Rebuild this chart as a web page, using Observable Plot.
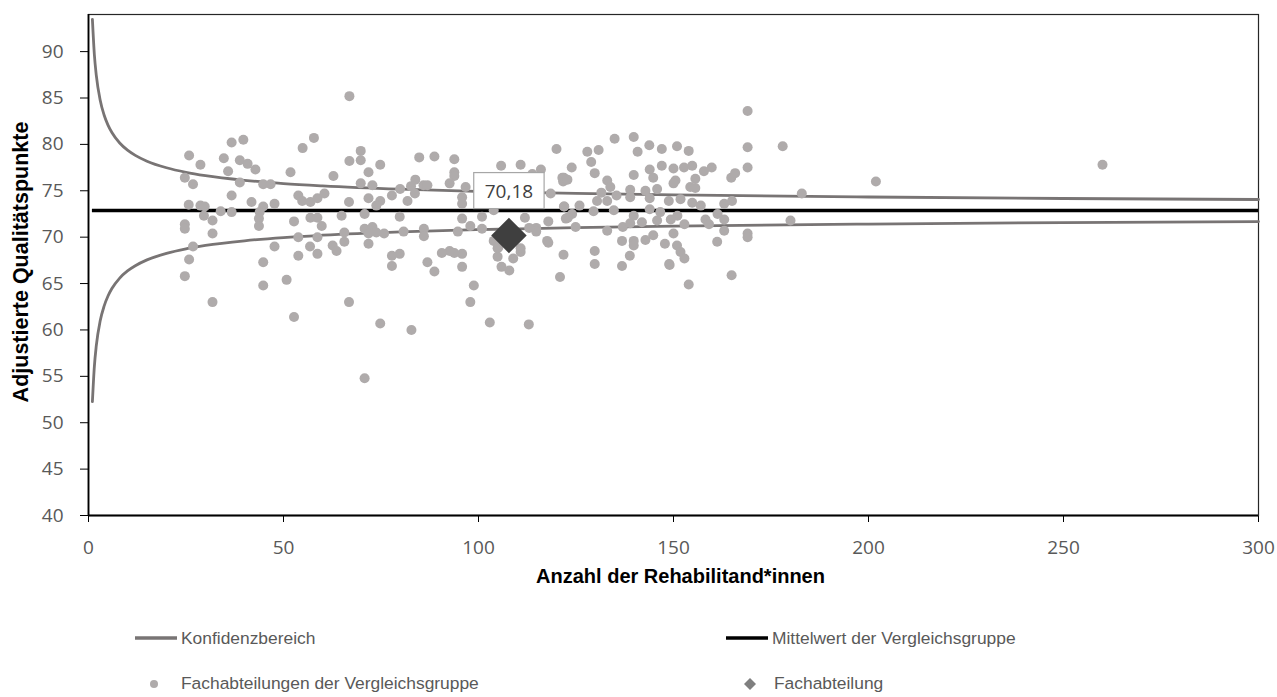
<!DOCTYPE html>
<html><head><meta charset="utf-8">
<script src="https://cdn.jsdelivr.net/npm/d3@7"></script>
<script src="https://cdn.jsdelivr.net/npm/@observablehq/plot@0.6"></script>
<style>
body{margin:0;background:#fff;}
#wrap{position:relative;width:1277px;height:697px;overflow:hidden;background:#fff;}
#chart svg{display:block;}
.legend{position:absolute;left:0;top:600px;width:1277px;height:97px;font-family:"Liberation Sans",Arial,sans-serif;font-size:17.4px;color:#595959;}
.legend .sym{position:absolute;width:46px;height:20px;}
.legend .lab{position:absolute;line-height:20px;white-space:nowrap;}
svg [aria-label="x-axis tick"], svg [aria-label="y-axis tick"]{stroke:#000;}
</style></head>
<body><div id="wrap"><div id="chart"></div>
<div class="legend">
  <svg class="sym" style="left:135px;top:28px"><line x1="0" x2="42" y1="10" y2="10" stroke="#787474" stroke-width="3.5"/></svg>
  <div class="lab" style="left:181px;top:28px">Konfidenzbereich</div>
  <svg class="sym" style="left:726px;top:28px"><line x1="0" x2="42" y1="10" y2="10" stroke="#000" stroke-width="3.5"/></svg>
  <div class="lab" style="left:772px;top:28px">Mittelwert der Vergleichsgruppe</div>
  <svg class="sym" style="left:135px;top:73px"><circle cx="19" cy="11" r="4" fill="#afabab"/></svg>
  <div class="lab" style="left:181px;top:73px">Fachabteilungen der Vergleichsgruppe</div>
  <svg class="sym" style="left:730px;top:73px"><path d="M20,5 L26,11 L20,17 L14,11 Z" fill="#7f7f7f"/></svg>
  <div class="lab" style="left:774px;top:73px">Fachabteilung</div>
</div></div>
<script>
// ---- data ----
const xTicks = [0, 50, 100, 150, 200, 250, 300];
const yTicks = [40, 45, 50, 55, 60, 65, 70, 75, 80, 85, 90];
const xLabel = "Anzahl der Rehabilitand*innen";
const yLabel = "Adjustierte Qualitätspunkte";

const meanValue = 72.87;   // Mittelwert der Vergleichsgruppe
const meanFrom = 1, meanTo = 300;

const ciN     = [1, 1.5, 2, 3, 4, 5, 6, 8, 10, 12, 15, 20, 25, 30, 40, 50, 60, 80, 100, 125, 150, 200, 250, 300];
const ciUpper = [93.47, 89.69, 87.44, 84.76, 83.17, 82.08, 81.28, 80.15, 79.38, 78.82, 78.19, 77.48, 76.99, 76.63, 76.13, 75.78, 75.53, 75.17, 74.93, 74.71, 74.55, 74.33, 74.17, 74.06];
const ciLower = [52.27, 56.05, 58.30, 60.98, 62.57, 63.66, 64.46, 65.59, 66.36, 66.92, 67.55, 68.26, 68.75, 69.11, 69.61, 69.96, 70.21, 70.57, 70.81, 71.03, 71.19, 71.41, 71.57, 71.68];

const deptN = [107.8];
const deptScore = [70.18];

const cmpN = [66.9,39.7,36.7,57.8,54.9,25.8,28.7,34.7,38.8,40.8,42.8,35.8,24.7,26.8,38.8,44.8,46.7,51.8,62.8,69.8,69.8,66.9,74.8,71.8,69.8,72.8,84.8,88.7,93.8,93.8,93.8,83.8,85.9,86.9,79.9,82.7,83.7,92.6,96.7,95.8,95.8,120,105.8,110.8,113.8,116,121.5,121.7,118.5,122,103.9,
25.7,28.7,29.8,29.6,31.8,33.9,36.7,36.7,41.8,44.8,43.9,43.7,43.7,47.7,53.8,54.8,56.9,58.7,60.5,66.8,71.8,74.8,73.8,64.9,70.8,56.9,58.7,52.7,59.8,77.8,79.8,81.8,95.8,100.9,97.9,100.9,111.9,114.8,114.8,117.9,122.4,110.8,117.9,121.8,104.9,108.9,105.9,107.9,120.9,102.9,112.9,97.9,98.8,95.8,95.8,93.8,92.6,90.6,88.7,86.9,79.8,77.8,77.8,74.8,82.8,70.8,66.8,52.7,50.8,44.8,44.8,31.8,24.7,25.8,26.8,24.7,24.7,31.8,47.7,53.8,53.8,56.8,58.7,58.7,62.6,63.6,65.6,65.6,71.8,70.8,72.8,73.8,75.8,71.8,80.8,86,86,94.7,103.9,104.9,107.9,113,105.1,110.8,117.6,
169,169,169,178,201.9,182.9,180,169,169,164.9,153.9,134.9,139.8,143.8,147,150.9,153.9,140.8,127.9,130.8,128.9,123.9,129.8,121.9,122.8,139.8,143.9,147,150,152.7,154.8,157.8,159.8,164.8,165.8,144.8,150.5,155.6,155.6,154.3,133,133.8,138.9,142.8,145.8,150,131.5,130.4,135.4,133,138.9,143.9,148.8,151.8,154.8,157,163,165,121.9,125.9,124,129.5,134.7,139.8,143.9,146.6,151,161.3,163,122.9,124.9,133,137,138.9,141.9,145.8,149.3,152.8,158.2,159.1,163,150,129.8,129.8,136.8,139.8,139.8,142.8,144.8,147.8,150.9,151.8,152.8,148.9,161.2,136.8,138.8,149,260];
const cmpScore = [85.2,80.5,80.2,80.7,79.6,78.8,77.8,78.5,78.3,77.9,77.3,77.1,76.4,75.7,75.9,75.7,75.7,77.0,76.6,79.3,78.3,78.2,77.8,77.0,75.8,75.6,78.6,78.7,78.4,77.0,76.6,76.2,75.6,75.6,75.2,75.5,74.7,75.8,75.4,74.3,73.6,79.5,77.7,77.8,76.8,77.3,76.4,76.0,74.7,73.3,72.9,
73.5,73.4,73.3,72.3,71.8,72.8,72.7,74.5,73.8,73.3,72.7,72.0,71.2,73.6,74.5,73.9,73.8,74.2,74.7,73.8,74.2,73.9,73.4,72.3,72.5,72.1,72.1,71.7,71.2,74.5,72.2,73.9,72.0,72.2,71.2,70.9,72.1,71.0,70.6,71.7,72.0,68.4,69.4,68.1,67.9,67.7,66.8,66.4,65.7,60.8,60.6,63.0,64.8,66.8,68.2,68.3,68.5,68.3,66.3,67.3,68.2,68.0,66.9,60.7,60.0,54.8,63.0,61.4,65.4,67.3,64.8,63.0,65.8,67.6,69.0,71.4,70.9,70.4,69.0,70.0,68.0,69.0,68.2,70.0,69.1,68.5,69.5,70.5,69.3,70.9,71.1,70.5,70.4,70.4,70.6,70.9,70.1,70.6,69.6,68.8,70.8,71.0,68.9,68.8,69.6,
83.6,79.7,77.5,79.8,76.0,74.7,71.8,70.4,70.0,65.9,64.9,80.6,80.8,79.9,79.5,79.8,79.3,79.2,79.2,79.4,78.1,77.5,76.9,76.4,76.2,76.7,77.3,77.7,77.4,77.5,77.7,77.1,77.5,76.4,76.9,76.4,76.1,76.3,75.3,75.4,76.1,75.4,75.1,75.0,75.2,75.8,74.8,73.9,74.5,73.9,74.3,74.2,73.9,74.1,73.7,73.4,73.6,73.9,73.3,73.4,72.5,72.8,72.9,72.3,73.0,72.7,72.3,72.5,71.9,72.1,71.1,70.7,71.1,71.5,71.6,71.8,71.9,71.4,71.9,71.4,70.7,70.4,68.5,67.1,69.6,69.6,69.1,69.7,70.2,69.3,69.1,68.4,67.7,67.1,69.5,66.9,68.0,67.0,77.8];

// ---- tables built from the arrays ----
const ci = ciN.map((n, i) => ({n, upper: ciUpper[i], lower: ciLower[i]}));
const cmp = cmpN.map((n, i) => ({n, score: cmpScore[i]}));
const dept = deptN.map((n, i) => ({n, score: deptScore[i], label: deptScore[i].toFixed(2).replace(".", ",")}));
const mean = [{y: meanValue, x1: meanFrom, x2: meanTo}];

const chart = Plot.plot({
  width: 1277, height: 600,
  marginLeft: 88, marginRight: 19, marginTop: 14, marginBottom: 85,
  style: {fontFamily: "'Open Sans', sans-serif", fontSize: "19px", color: "#595959", background: "white", overflow: "visible"},
  x: {domain: [0, 300], ticks: xTicks, tickSize: 7, tickPadding: 18, tickFormat: d => String(d), label: null},
  y: {domain: [40, 94], ticks: yTicks, tickSize: 8, tickPadding: 17, tickFormat: d => String(d), label: null},
  marks: [
    Plot.frame({stroke: "#262626", strokeWidth: 1.2}),
    Plot.line(ci, {x: "n", y: "upper", stroke: "#787474", strokeWidth: 2.8, curve: "monotone-x"}),
    Plot.line(ci, {x: "n", y: "lower", stroke: "#787474", strokeWidth: 2.8, curve: "monotone-x"}),
    Plot.ruleY(mean, {y: "y", x1: "x1", x2: "x2", stroke: "#000", strokeWidth: 3.6}),
    Plot.dot(cmp, {x: "n", y: "score", r: 5, fill: "#afabab", stroke: "none"}),
    Plot.dot(dept, {x: "n", y: "score", r: 16, symbol: "diamond2", fill: "#3f3f3f", stroke: "none"}),
    Plot.text(dept, {x: "n", y: "score", text: "label", dy: -44, fontSize: 19, fill: "#404040", fontFamily: "'Open Sans', sans-serif"}),
    Plot.ruleX([0], {stroke: "#000", strokeWidth: 1.8}),
    Plot.ruleY([40], {stroke: "#000", strokeWidth: 1.8}),
    Plot.text([xLabel], {text: d => d, frameAnchor: "bottom", textAnchor: "middle", dx: 7, dy: 67, fontSize: 20, fontWeight: "bold", fill: "#000", fontFamily: "'Liberation Sans', Arial, sans-serif"}),
    Plot.text([yLabel], {text: d => d, frameAnchor: "left", textAnchor: "middle", lineAnchor: "middle", rotate: -90, dx: -67, dy: -3, fontSize: 21.5, fontWeight: "bold", fill: "#000", fontFamily: "'Liberation Sans', Arial, sans-serif"})
  ]
});
document.getElementById("chart").appendChild(chart);

// white box with grey border behind the data label
const labelText = dept[0].label;
chart.querySelectorAll("text").forEach(t => {
  if (t.textContent === labelText) {
    const b = t.getBBox();
    const g = t.parentNode;
    const rect = document.createElementNS("http://www.w3.org/2000/svg", "rect");
    const padX = 11, padY = 5;
    rect.setAttribute("x", b.x - padX);
    rect.setAttribute("y", b.y - padY);
    rect.setAttribute("width", b.width + 2 * padX);
    rect.setAttribute("height", b.height + 2 * padY);
    rect.setAttribute("fill", "#fff");
    rect.setAttribute("stroke", "#a6a6a6");
    rect.setAttribute("stroke-width", "1.2");
    const tr = t.getAttribute("transform");
    if (tr) rect.setAttribute("transform", tr);
    g.insertBefore(rect, t);
  }
});
</script></body></html>
